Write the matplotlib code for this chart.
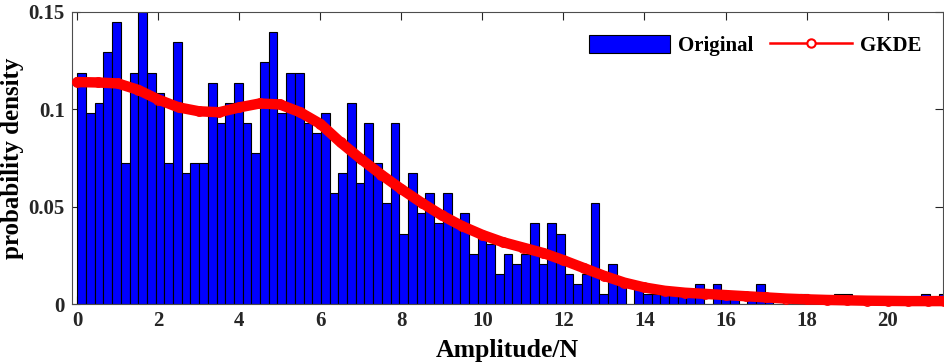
import matplotlib
matplotlib.use("Agg")
import matplotlib.pyplot as plt
import numpy as np
from matplotlib.patches import Patch
from matplotlib.lines import Line2D

plt.rcParams.update({"font.family": "Liberation Serif", "font.weight": "bold",
                     "axes.labelweight": "bold", "axes.edgecolor": "#4d4d4d",
                     "xtick.color": "#262626", "ytick.color": "#262626"})

# histogram: counts per bin, bin width and density of one count
bin_width = 0.2148
density_per_count = 0.00517
counts = [23, 19, 20, 25, 28, 14, 23, 29, 23, 21,
          14, 26, 13, 14, 14, 22, 18, 20, 22, 18,
          15, 24, 27, 19, 23, 23, 18, 17, 19, 11,
          13, 20, 12, 18, 14, 10, 18, 7, 13, 9,
          11, 8, 11, 8, 9, 5, 7, 6, 3, 5,
          4, 5, 8, 4, 8, 7, 3, 2, 3, 10,
          1, 4, 2, 0, 2, 1, 1, 1, 1, 1,
          1, 2, 0, 2, 1, 1, 0, 1, 2, 1,
          0, 0, 0, 1, 0, 0, 0, 1, 1, 0,
          0, 0, 0, 0, 0, 0, 0, 1, 0, 1]

# GKDE curve
kde_x = [0.0, 0.5, 1.0, 1.5, 2.0, 2.5, 3.0, 3.5, 4.0, 4.5, 5.0, 5.5, 6.0, 6.5, 7.0,
         7.5, 8.0, 8.5, 9.0, 9.5, 10.0, 10.5, 11.0, 11.5, 12.0, 12.5, 13.0, 13.5,
         14.0, 14.5, 15.0, 15.5, 16.0, 16.5, 17.0, 17.5, 18.0, 18.5, 19.0, 19.5,
         20.0, 20.5, 21.0, 21.4]
kde_y = [0.1140, 0.1138, 0.1133, 0.1100, 0.1050, 0.1010, 0.0990, 0.0985, 0.1010,
         0.1030, 0.1025, 0.0985, 0.0925, 0.0830, 0.0745, 0.0665, 0.0590, 0.0520,
         0.0455, 0.0400, 0.0355, 0.0318, 0.0290, 0.0262, 0.0225, 0.0185, 0.0145,
         0.0110, 0.0085, 0.0068, 0.0058, 0.0052, 0.0046, 0.0040, 0.0034, 0.0028,
         0.0024, 0.0021, 0.0019, 0.0017, 0.0016, 0.0015, 0.0015, 0.0015]

xticks = [0, 2, 4, 6, 8, 10, 12, 14, 16, 18, 20]
yticks = [0, 0.05, 0.1, 0.15]
ytick_labels = ["0", "0.05", "0.1", "0.15"]

fig = plt.figure(figsize=(9.44, 3.63), dpi=100)
ax = fig.add_axes([0.076, 0.1625, 0.923, 0.8045])

lefts = np.arange(len(counts)) * bin_width
heights = np.array(counts) * density_per_count
ax.bar(lefts, heights, width=bin_width, align="edge", color="#0000ff",
       edgecolor="black", linewidth=0.8, zorder=2)

ax.plot(kde_x, kde_y, color="red", lw=7.5, solid_capstyle="round",
        marker="o", ms=7, mfc="none", mec="red", mew=0.8, zorder=3, clip_on=False)

ax.set_xlim(-0.138, 21.37)
ax.set_ylim(0, 0.15)
ax.set_xticks(xticks)
ax.set_yticks(yticks)
ax.set_yticklabels(ytick_labels)
ax.tick_params(direction="in", length=6, width=0.8, top=True, right=True,
               labelsize=15, pad=5)
for s in ax.spines.values():
    s.set_linewidth(0.8)
ax.set_xlabel("Amplitude/N", fontsize=18.5, labelpad=6)
ax.set_ylabel("probability density", fontsize=18, labelpad=3)

handles = [Patch(facecolor="#0000ff", edgecolor="black", linewidth=0.8),
           Line2D([], [], color="red", lw=1.8, marker="o", ms=6, mfc="white",
                  mec="red", mew=1.5)]
ax.legend(handles, ["Original", "GKDE"], ncol=2, frameon=False, fontsize=15,
          loc="center right", bbox_to_anchor=(0.987, 0.884), borderpad=0,
          handlelength=3.9, handleheight=0.9, handletextpad=0.4, columnspacing=0.8)

fig.savefig("out.png", facecolor="white")
